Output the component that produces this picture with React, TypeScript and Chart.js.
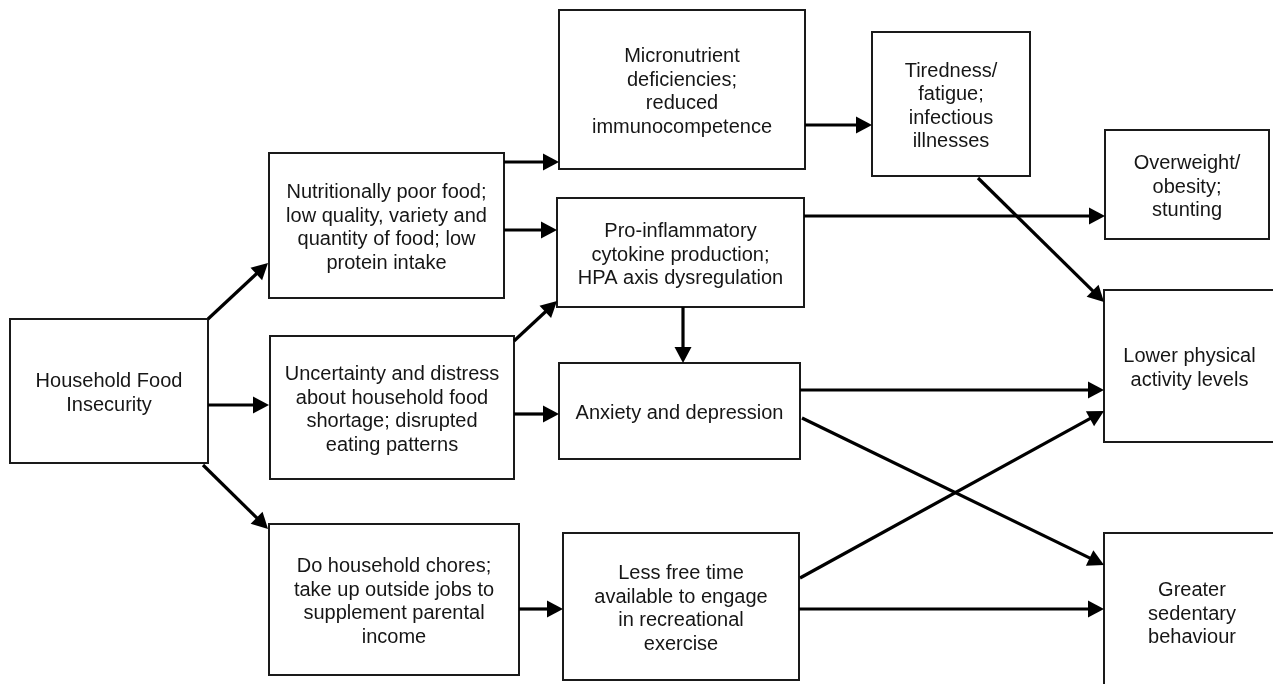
import React, { useEffect, useRef } from 'react';
import { Chart, registerables } from 'chart.js';

Chart.register(...registerables);

// Flowchart boxes (diagram coordinates, 1273 x 684 space, y downward)
const boxLabels: string[][] = [
  ['Household Food', 'Insecurity'],
  ['Nutritionally poor food;', 'low quality, variety and', 'quantity of food; low', 'protein intake'],
  ['Micronutrient', 'deficiencies;', 'reduced', 'immunocompetence'],
  ['Tiredness/', 'fatigue;', 'infectious', 'illnesses'],
  ['Overweight/', 'obesity;', 'stunting'],
  ['Pro-inflammatory', 'cytokine production;', 'HPA axis dysregulation'],
  ['Lower physical', 'activity levels'],
  ['Uncertainty and distress', 'about household food', 'shortage; disrupted', 'eating patterns'],
  ['Anxiety and depression'],
  ['Do household chores;', 'take up outside jobs to', 'supplement parental', 'income'],
  ['Less free time', 'available to engage', 'in recreational', 'exercise'],
  ['Greater', 'sedentary', 'behaviour'],
];
const boxLeft = [10, 269, 559, 872, 1105, 557, 1104, 270, 559, 269, 563, 1104];
const boxTop = [319, 153, 10, 32, 130, 198, 290, 336, 363, 524, 533, 533];
const boxRight = [208, 504, 805, 1030, 1269, 804, 1275, 514, 800, 519, 799, 1280];
const boxBottom = [463, 298, 169, 176, 239, 307, 442, 479, 459, 675, 680, 690];

// Arrows: start point -> tip point
const arrowFromX = [208, 208, 203, 504, 504, 514, 805, 804, 978, 683, 514, 800, 802, 800, 799, 519];
const arrowFromY = [319, 405, 465, 162, 230, 341, 125, 216, 178, 307, 414, 390, 418, 578, 609, 609];
const arrowToX = [268, 269, 268, 559, 557, 557, 872, 1105, 1104, 683, 559, 1104, 1104, 1104, 1104, 563];
const arrowToY = [263, 405, 529, 162, 230, 301, 125, 216, 302, 363, 414, 390, 565, 411, 609, 609];

const FONT = '20px "Liberation Sans", Arial, Helvetica, sans-serif';
const LINE_H = 23.5;

const diagramPlugin = {
  id: 'diagram',
  afterDraw(chart: any) {
    const ctx = chart.ctx as CanvasRenderingContext2D;
    const xs = chart.scales.x;
    const ys = chart.scales.y;
    const px = (v: number) => xs.getPixelForValue(v);
    const py = (v: number) => ys.getPixelForValue(v);
    ctx.save();
    // boxes
    ctx.strokeStyle = '#1a1a1a';
    ctx.lineWidth = 2;
    for (let i = 0; i < boxLabels.length; i++) {
      const x0 = px(boxLeft[i]);
      const x1 = px(boxRight[i]);
      const y0 = py(boxTop[i]);
      const y1 = py(boxBottom[i]);
      ctx.strokeRect(x0, y0, x1 - x0, y1 - y0);
      const lines = boxLabels[i];
      const cx = (x0 + x1) / 2;
      const cy = (y0 + y1) / 2;
      ctx.fillStyle = '#161616';
      ctx.font = FONT;
      ctx.textAlign = 'center';
      ctx.textBaseline = 'middle';
      const startY = cy - ((lines.length - 1) * LINE_H) / 2 + 2.5;
      lines.forEach((t, j) => ctx.fillText(t, cx, startY + j * LINE_H));
    }
    // arrows
    const headLen = 16;
    const headW = 17;
    ctx.strokeStyle = '#000';
    ctx.fillStyle = '#000';
    ctx.lineWidth = 3.2;
    for (let i = 0; i < arrowFromX.length; i++) {
      const sx = px(arrowFromX[i]);
      const sy = py(arrowFromY[i]);
      const tx = px(arrowToX[i]);
      const ty = py(arrowToY[i]);
      const dx = tx - sx;
      const dy = ty - sy;
      const len = Math.hypot(dx, dy);
      const ux = dx / len;
      const uy = dy / len;
      const bx = tx - ux * headLen;
      const by = ty - uy * headLen;
      ctx.beginPath();
      ctx.moveTo(sx, sy);
      ctx.lineTo(bx + ux, by + uy);
      ctx.stroke();
      ctx.beginPath();
      ctx.moveTo(tx, ty);
      ctx.lineTo(bx - uy * headW / 2, by + ux * headW / 2);
      ctx.lineTo(bx + uy * headW / 2, by - ux * headW / 2);
      ctx.closePath();
      ctx.fill();
    }
    ctx.restore();
  },
};

export default function App() {
  const ref = useRef<HTMLCanvasElement | null>(null);
  useEffect(() => {
    document.body.style.margin = '0';
    document.body.style.background = '#ffffff';
    if (!ref.current) return;
    const centers = boxLabels.map((_, i) => ({
      x: (boxLeft[i] + boxRight[i]) / 2,
      y: (boxTop[i] + boxBottom[i]) / 2,
    }));
    const chart = new Chart(ref.current, {
      type: 'scatter',
      data: {
        datasets: [
          {
            label: 'nodes',
            data: centers,
            pointRadius: 0,
            pointHoverRadius: 0,
          },
        ],
      },
      options: {
        animation: false,
        responsive: true,
        maintainAspectRatio: false,
        layout: { padding: 0 },
        events: [],
        plugins: {
          legend: { display: false },
          tooltip: { enabled: false },
          title: { display: false },
        },
        scales: {
          x: { type: 'linear', min: 0, max: 1273, display: false },
          y: { type: 'linear', min: 0, max: 684, reverse: true, display: false },
        },
      },
      plugins: [diagramPlugin],
    });
    return () => chart.destroy();
  }, []);
  return (
    <div style={{ width: '1273px', height: '684px', position: 'relative', background: '#fff' }}>
      <canvas ref={ref} />
    </div>
  );
}
